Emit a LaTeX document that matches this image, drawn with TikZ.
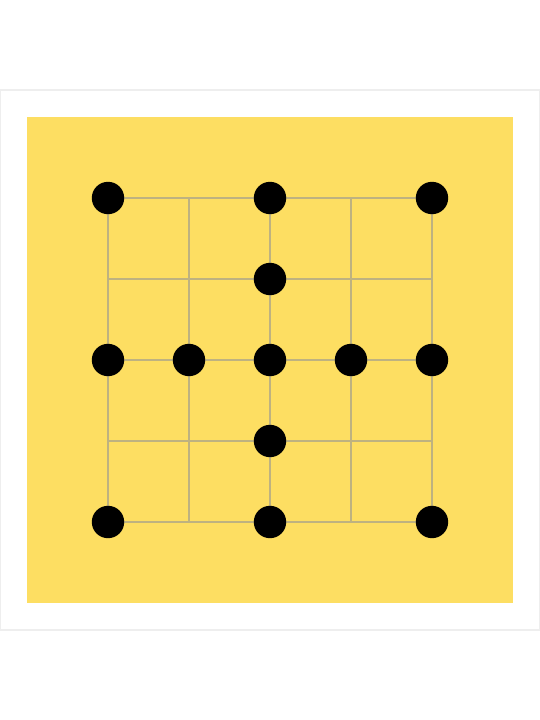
\documentclass[tikz,border=0pt]{standalone}
\usepackage{xcolor}
\definecolor{board}{RGB}{253,222,98}
\definecolor{gridln}{RGB}{190,178,128}
\definecolor{frame}{RGB}{238,238,238}
\usepackage{tikz}
\usetikzlibrary{positioning}

\begin{document}
\begin{tikzpicture}[
    x=1cm, y=1cm,
    stone/.style={
        circle, fill=black, inner sep=0pt,
        minimum size=0.4cm
    },
    ln/.style={gridln, line width=0.55pt}
]

\useasboundingbox (-1.3333,-2.4444) rectangle (5.3333,6.4444);
\fill[white] (-1.3333,-2.4444) rectangle (5.3333,6.4444);

% outer frame and board
\draw[frame, line width=0.8pt] (-1.3333,-1.3333) rectangle (5.3333,5.3333);
\fill[board] (-1,-1) rectangle (5,5);

% lines
\draw[ln] (0,0) grid (4,4);

% stones
\foreach \x/\y [count=\i] in {0/4, 2/4, 4/4, 2/3, 0/2, 1/2, 2/2, 3/2, 4/2, 2/1, 0/0, 2/0, 4/0}
    \node[stone] (s\i) at (\x,\y) {};

\end{tikzpicture}
\end{document}
